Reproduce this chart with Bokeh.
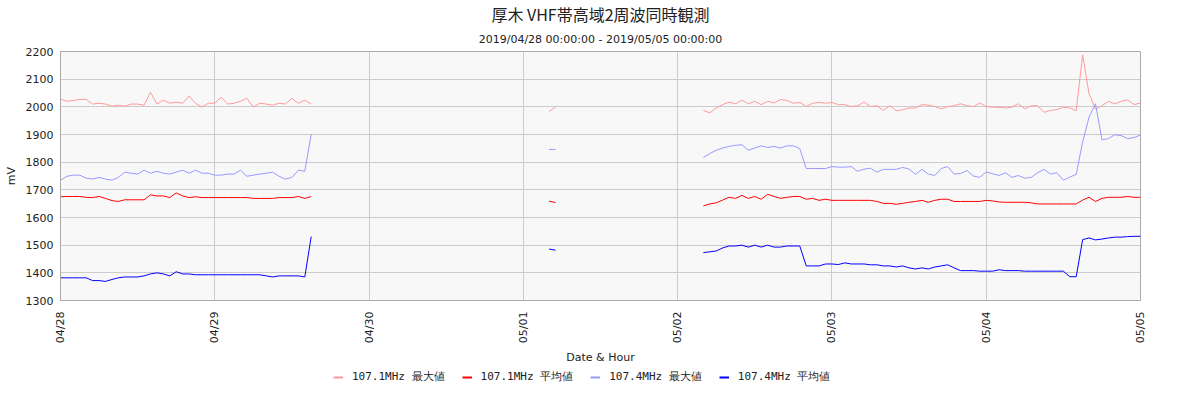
import math
import numpy as np
import pandas as pd
from bokeh.plotting import figure
from bokeh.layouts import column
from bokeh.models import (Range1d, FixedTicker, DatetimeTickFormatter, Legend,
                          LegendItem, Title, ColumnDataSource)
from bokeh.embed import file_html
from bokeh.resources import INLINE

# ---------------- data ----------------
title_text = "厚木 VHF帯高域2周波同時観測"
subtitle_text = "2019/04/28 00:00:00 - 2019/05/05 00:00:00"
x_label = "Date & Hour"
y_label = "mV"
series_names = ["107.1MHz 最大値", "107.1MHz 平均値", "107.4MHz 最大値", "107.4MHz 平均値"]
day_ticks = ["2019-04-28", "2019-04-29", "2019-04-30", "2019-05-01",
             "2019-05-02", "2019-05-03", "2019-05-04", "2019-05-05"]
y_ticks = [1300, 1400, 1500, 1600, 1700, 1800, 1900, 2000, 2100, 2200]
# hourly segments: start time of each continuous run of hourly samples
seg_starts = ["2019-04-28 00:00", "2019-05-01 04:00", "2019-05-02 04:00"]

max_1071 = [
    [2028, 2020, 2023, 2027, 2027, 2010, 2013, 2010, 2002, 2006, 2002, 2010, 2010, 2006,
     2053, 2010, 2024, 2013, 2017, 2013, 2039, 2013, 1999, 2013, 2013, 2035, 2010, 2013,
     2020, 2031, 1999, 2013, 2010, 2006, 2013, 2010, 2031, 2013, 2024, 2010],
    [1983, 1999],
    [1987, 1978, 1996, 2008, 2017, 2011, 2024, 2011, 2020, 2008, 2020, 2014, 2027, 2023,
     2013, 2016, 2001, 2013, 2016, 2013, 2016, 2008, 2008, 2001,
     2004, 2017, 2001, 2004, 1987, 2004, 1986, 1989, 1996, 1996, 2008, 2006, 2001, 1993,
     2001, 2004, 2011, 2004, 2001, 2014, 2001,
     1999, 1998, 1996, 1999, 2011, 1993, 2004, 2004, 1980, 1987, 1990, 1999, 1996, 1986,
     2188, 2047, 1992, 2004, 2020, 2011, 2020, 2025, 2008, 2014],
]
avg_1071 = [
    [1675, 1676, 1676, 1676, 1673, 1672, 1676, 1669, 1661, 1658, 1664, 1664, 1664, 1664,
     1682, 1678, 1678, 1672, 1689, 1678, 1672, 1675, 1672, 1672, 1672, 1672, 1672, 1672,
     1672, 1672, 1669, 1669, 1669, 1669, 1672, 1672, 1672, 1676, 1669, 1676],
    [1659, 1654],
    [1642, 1649, 1653, 1663, 1673, 1669, 1680, 1669, 1676, 1666, 1684, 1676, 1669, 1673,
     1676, 1676, 1666, 1669, 1662, 1666, 1662, 1662, 1662, 1662,
     1662, 1662, 1662, 1658, 1651, 1651, 1648, 1651, 1655, 1658, 1662, 1655, 1662, 1666,
     1666, 1658, 1658, 1658, 1658, 1658, 1662,
     1660, 1656, 1655, 1655, 1655, 1655, 1653, 1649, 1649, 1649, 1649, 1649, 1649, 1649,
     1663, 1673, 1658, 1669, 1673, 1673, 1673, 1676, 1673, 1673],
]
max_1074 = [
    [1735, 1749, 1753, 1753, 1742, 1739, 1745, 1739, 1735, 1745, 1764, 1760, 1757, 1771,
     1760, 1767, 1760, 1757, 1764, 1771, 1760, 1771, 1760, 1760, 1753, 1753, 1757, 1757,
     1771, 1749, 1753, 1757, 1760, 1764, 1749, 1739, 1745, 1771, 1767, 1901],
    [1846, 1846],
    [1817, 1831, 1843, 1851, 1857, 1861, 1863, 1843, 1851, 1859, 1853, 1857, 1851, 1859,
     1859, 1849, 1777, 1777, 1777, 1777, 1784, 1782, 1782, 1784,
     1767, 1775, 1778, 1764, 1774, 1774, 1774, 1781, 1775, 1756, 1774, 1757, 1752, 1777,
     1784, 1757, 1759, 1770, 1750, 1745, 1765,
     1758, 1752, 1762, 1745, 1752, 1742, 1745, 1762, 1774, 1757, 1762, 1735, 1746, 1756,
     1873, 1963, 2011, 1881, 1885, 1899, 1896, 1885, 1889, 1898],
]
avg_1074 = [
    [1382, 1382, 1382, 1382, 1382, 1372, 1372, 1369, 1376, 1382, 1385, 1385, 1385, 1389,
     1396, 1400, 1396, 1389, 1404, 1396, 1396, 1393, 1393, 1393, 1393, 1393, 1393, 1393,
     1393, 1393, 1393, 1393, 1389, 1385, 1389, 1389, 1389, 1389, 1385, 1531],
    [1486, 1482],
    [1473, 1476, 1479, 1490, 1497, 1497, 1500, 1493, 1500, 1493, 1500, 1493, 1493, 1497,
     1497, 1497, 1425, 1425, 1425, 1432, 1432, 1430, 1436, 1432,
     1432, 1432, 1429, 1429, 1425, 1425, 1421, 1425, 1418, 1414, 1418, 1414, 1421, 1425,
     1429, 1418, 1408, 1408, 1408, 1406, 1406,
     1406, 1411, 1408, 1408, 1408, 1406, 1406, 1406, 1406, 1406, 1406, 1406, 1386, 1386,
     1520, 1526, 1519, 1522, 1526, 1529, 1529, 1531, 1532, 1532],
]
series_values = [max_1071, avg_1071, max_1074, avg_1074]
series_colors = ["#ff9999", "#ff0000", "#9999ff", "#0000ff"]


def ms(ts):
    return pd.Timestamp(ts).value / 1e6


def build(segments):
    xs, ys = [], []
    for start, vals in zip(seg_starts, segments):
        t = pd.date_range(start, periods=len(vals), freq="h")
        xs.extend(ts.value / 1e6 for ts in t)
        ys.extend(float(v) for v in vals)
        xs.append((t[-1] + pd.Timedelta(hours=1)).value / 1e6)
        ys.append(np.nan)
    return xs, ys


# ---------------- main chart ----------------
p1 = figure(width=1184, height=368, x_axis_type="datetime",
            x_range=Range1d(ms(day_ticks[0]), ms(day_ticks[-1])),
            y_range=Range1d(y_ticks[0], y_ticks[-1]),
            output_backend="svg", toolbar_location=None,
            min_border_left=60, min_border_right=44, min_border_top=50, min_border_bottom=68,
            background_fill_color="#f8f8f8", border_fill_color="white",
            outline_line_color="#aaaaaa")
p1.title.text = ""

sub = Title(text=subtitle_text, align="center", text_font="DejaVu Sans",
            text_font_size="11px", text_font_style="normal", text_color="#222222",
            standoff=12)
main = Title(text=title_text, align="center", text_font="Noto Sans CJK JP",
             text_font_size="16px", text_font_style="normal", text_color="#222222",
             standoff=-2)
p1.add_layout(sub, "above")
p1.add_layout(main, "above")

for vals, color in zip(series_values, series_colors):
    xs, ys = build(vals)
    src = ColumnDataSource(data=dict(x=xs, y=ys))
    p1.line("x", "y", source=src, line_color=color, line_width=1)

xa = p1.xaxis[0]
xa.ticker = FixedTicker(ticks=[ms(d) for d in day_ticks], minor_ticks=[])
xa.formatter = DatetimeTickFormatter(days="%m/%d", months="%m/%d", hours="%m/%d",
                                     years="%m/%d")
xa.major_label_orientation = math.pi / 2
xa.major_label_standoff = 11
xa.axis_label = x_label
xa.axis_label_standoff = 5

ya = p1.yaxis[0]
ya.ticker = FixedTicker(ticks=y_ticks, minor_ticks=[])
ya.major_label_standoff = 7
ya.axis_label = y_label
ya.axis_label_standoff = 5

for ax in (xa, ya):
    ax.major_tick_out = 0
    ax.major_tick_in = 0
    ax.minor_tick_out = 0
    ax.minor_tick_in = 0
    ax.axis_line_color = "#aaaaaa"
    ax.major_label_text_font = "DejaVu Sans"
    ax.major_label_text_font_size = "11px"
    ax.major_label_text_color = "#222222"
    ax.axis_label_text_font = "DejaVu Sans"
    ax.axis_label_text_font_size = "11px"
    ax.axis_label_text_font_style = "normal"
    ax.axis_label_text_color = "#222222"

p1.xgrid.grid_line_color = "#cccccc"
p1.ygrid.grid_line_color = "#cccccc"

# ---------------- legend strip ----------------
p2 = figure(width=1184, height=16, output_backend="svg", toolbar_location=None,
            x_axis_location=None, y_axis_location=None,
            x_range=Range1d(0, 1), y_range=Range1d(0, 1),
            min_border=0, outline_line_color=None,
            background_fill_color="white", border_fill_color="white")
p2.grid.visible = False
# legend keys only: these samples lie outside the strip's ranges, so nothing is drawn
leg_renderers = [p2.line(x=[5, 6], y=[5, 5], line_color=c, line_width=2) for c in series_colors]
legend = Legend(items=[LegendItem(label=n, renderers=[r]) for n, r in zip(series_names, leg_renderers)],
                orientation="horizontal", location=(273, 0),
                label_text_font="DejaVu Sans Mono", label_text_font_size="11px",
                label_text_color="#222222",
                glyph_width=10, glyph_height=12, label_height=12, label_standoff=9,
                spacing=17, padding=0, margin=0,
                border_line_color=None, background_fill_alpha=0)
p2.add_layout(legend, "center")

page = column(p1, p2, spacing=0)
open("out.html", "w").write(file_html(page, INLINE))
